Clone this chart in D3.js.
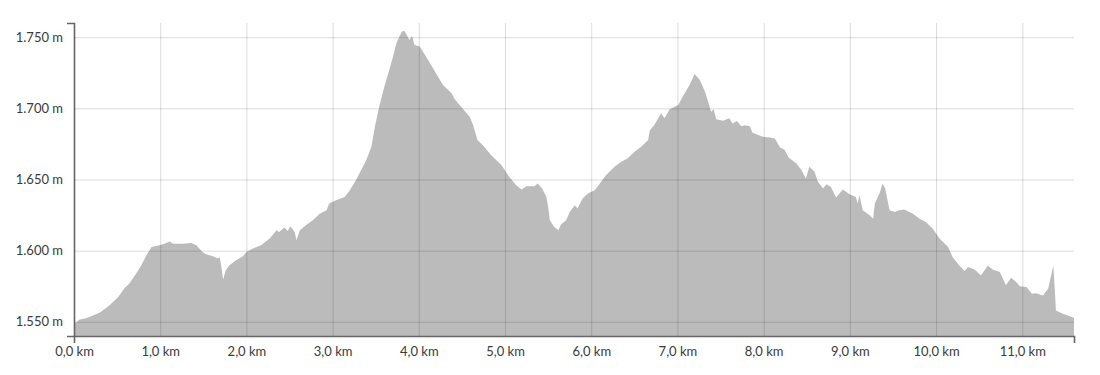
<!DOCTYPE html>
<html>
<head>
<meta charset="utf-8">
<script src="https://cdn.jsdelivr.net/npm/d3@7"></script>
<style>
  body { margin: 0; background: #fff; }
  #profile text { font-family: Lato, "Noto Sans", sans-serif; font-size: 13px; fill: #3a3a3a; }
</style>
</head>
<body>
<div id="profile"></div>
<script>
// distance along the route (km) and elevation (m)
var distKm = [0.00, 0.03, 0.06, 0.14, 0.22, 0.31, 0.41, 0.51, 0.59, 0.64, 0.72, 0.78, 0.84, 0.90, 0.99,
  1.05, 1.11, 1.15, 1.26, 1.36, 1.42, 1.49, 1.53, 1.61, 1.67, 1.69, 1.71, 1.73, 1.76, 1.80, 1.88, 1.96,
  2.00, 2.07, 2.17, 2.27, 2.35, 2.38, 2.44, 2.48, 2.51, 2.56, 2.58, 2.62, 2.69, 2.77, 2.85, 2.93, 2.96,
  3.04, 3.14, 3.20, 3.27, 3.33, 3.39, 3.45, 3.49, 3.54, 3.60, 3.64, 3.70, 3.74, 3.80, 3.83, 3.85, 3.89,
  3.92, 3.95, 4.01, 4.12, 4.28, 4.38, 4.41, 4.49, 4.59, 4.63, 4.68, 4.74, 4.84, 4.96, 5.05, 5.13, 5.19,
  5.25, 5.34, 5.38, 5.43, 5.48, 5.50, 5.52, 5.57, 5.62, 5.65, 5.71, 5.75, 5.81, 5.84, 5.90, 5.96, 6.04,
  6.10, 6.17, 6.27, 6.35, 6.42, 6.50, 6.58, 6.66, 6.68, 6.73, 6.81, 6.85, 6.91, 7.01, 7.06, 7.14, 7.20,
  7.26, 7.32, 7.35, 7.39, 7.42, 7.45, 7.53, 7.60, 7.64, 7.69, 7.74, 7.78, 7.84, 7.87, 7.99, 8.07, 8.13,
  8.19, 8.24, 8.29, 8.38, 8.44, 8.49, 8.53, 8.59, 8.63, 8.69, 8.73, 8.78, 8.84, 8.92, 9.00, 9.07, 9.09,
  9.11, 9.15, 9.23, 9.27, 9.29, 9.35, 9.38, 9.41, 9.46, 9.52, 9.57, 9.63, 9.73, 9.81, 9.88, 9.96, 10.04,
  10.14, 10.19, 10.27, 10.33, 10.37, 10.45, 10.52, 10.60, 10.66, 10.74, 10.81, 10.87, 10.93, 10.97,
  11.05, 11.11, 11.16, 11.24, 11.30, 11.34, 11.36, 11.38, 11.39, 11.47, 11.60];

var elevM = [1548.6, 1549.7, 1551.4, 1552.5, 1554.4, 1556.8, 1561.5, 1567.3, 1573.9, 1576.8, 1583.8, 1589.6, 1596.7, 1602.5, 1603.7,
  1604.9, 1606.5, 1604.9, 1604.9, 1605.4, 1603.7, 1599.0, 1597.4, 1596.0, 1594.4, 1595.5, 1588.5, 1579.8, 1586.1, 1589.6, 1593.2, 1596.0,
  1599.0, 1601.4, 1603.7, 1608.5, 1614.3, 1613.1, 1616.2, 1613.8, 1617.1, 1613.1, 1607.3, 1614.3, 1617.8, 1621.3, 1626.0, 1628.4, 1633.1,
  1635.4, 1637.7, 1642.5, 1649.5, 1656.5, 1663.6, 1673.0, 1687.0, 1701.1, 1715.2, 1723.5, 1736.3, 1745.8, 1753.9, 1754.6, 1752.8, 1748.1,
  1750.9, 1744.6, 1743.4, 1732.8, 1716.4, 1710.6, 1707.0, 1701.1, 1694.1, 1688.2, 1677.7, 1674.2, 1667.1, 1660.1, 1651.8, 1646.0, 1643.0,
  1645.3, 1645.3, 1647.2, 1643.7, 1637.7, 1630.7, 1621.3, 1616.6, 1614.3, 1618.5, 1621.3, 1627.2, 1631.9, 1629.6, 1636.6, 1640.1, 1642.5,
  1647.2, 1653.0, 1658.9, 1662.4, 1664.8, 1669.4, 1673.0, 1677.7, 1684.7, 1688.2, 1696.5, 1693.0, 1699.3, 1702.3, 1708.2, 1716.4, 1724.2,
  1719.9, 1711.7, 1705.8, 1697.6, 1699.3, 1692.3, 1691.3, 1693.0, 1689.4, 1691.1, 1687.5, 1688.2, 1687.5, 1682.8, 1680.0, 1679.6, 1678.9,
  1672.5, 1671.1, 1665.5, 1661.3, 1656.5, 1650.7, 1658.9, 1655.4, 1648.3, 1643.7, 1646.7, 1644.8, 1637.3, 1643.0, 1639.5, 1637.7, 1633.1,
  1638.9, 1628.4, 1624.9, 1622.5, 1633.1, 1641.3, 1647.2, 1643.7, 1628.4, 1627.2, 1628.4, 1628.9, 1626.0, 1622.5, 1620.1, 1615.5, 1608.5,
  1602.5, 1595.5, 1589.6, 1585.6, 1588.5, 1586.6, 1582.6, 1589.6, 1586.6, 1584.9, 1575.6, 1581.0, 1577.9, 1574.9,
  1574.4, 1569.7, 1570.1, 1568.5, 1573.2, 1583.8, 1589.6, 1569.7, 1558.0, 1555.6, 1552.8];

// axis ticks and their labels
var xTicks = [0, 1, 2, 3, 4, 5, 6, 7, 8, 9, 10, 11];
var xTickLabels = ["0,0 km", "1,0 km", "2,0 km", "3,0 km", "4,0 km", "5,0 km", "6,0 km", "7,0 km", "8,0 km", "9,0 km", "10,0 km", "11,0 km"];
var yTicks = [1550, 1600, 1650, 1700, 1750];
var yTickLabels = ["1.550 m", "1.600 m", "1.650 m", "1.700 m", "1.750 m"];

var margin = {top: 23, right: 26, bottom: 39, left: 74},
    width = 1100 - margin.left - margin.right,
    height = 375 - margin.top - margin.bottom;

var svg = d3.select("#profile")
  .append("svg")
    .attr("width", width + margin.left + margin.right)
    .attr("height", height + margin.top + margin.bottom)
  .append("g")
    .attr("transform", "translate(" + margin.left + "," + margin.top + ")");

var data = distKm.map(function (d, i) { return {km: d, ele: elevM[i]}; });

var x = d3.scaleLinear().domain([0, 11.6]).range([0, width]);
var y = d3.scaleLinear().domain([1540, 1760]).range([height, 0]);

// elevation area
svg.append("path")
  .datum(data)
  .attr("fill", "#bbbbbb")
  .attr("d", d3.area()
    .x(function (d) { return x(d.km); })
    .y0(height)
    .y1(function (d) { return y(d.ele); }));

// X axis with vertical grid lines
var xAxis = svg.append("g")
  .attr("transform", "translate(0," + height + ")")
  .call(d3.axisBottom(x)
    .tickValues(xTicks)
    .tickFormat(function (d, i) { return xTickLabels[i]; })
    .tickSizeInner(-height)
    .tickSizeOuter(7)
    .tickPadding(11));

// Y axis with horizontal grid lines
var yAxis = svg.append("g")
  .call(d3.axisLeft(y)
    .tickValues(yTicks)
    .tickFormat(function (d, i) { return yTickLabels[i]; })
    .tickSizeInner(-width)
    .tickSizeOuter(7)
    .tickPadding(11));

svg.selectAll(".tick line").attr("stroke", "rgba(0,0,0,0.14)");
svg.selectAll(".domain").attr("stroke", "#666").attr("stroke-width", 1.6);
svg.selectAll(".tick text").attr("fill", "#3a3a3a").style("font-size", "13px");
</script>
</body>
</html>
